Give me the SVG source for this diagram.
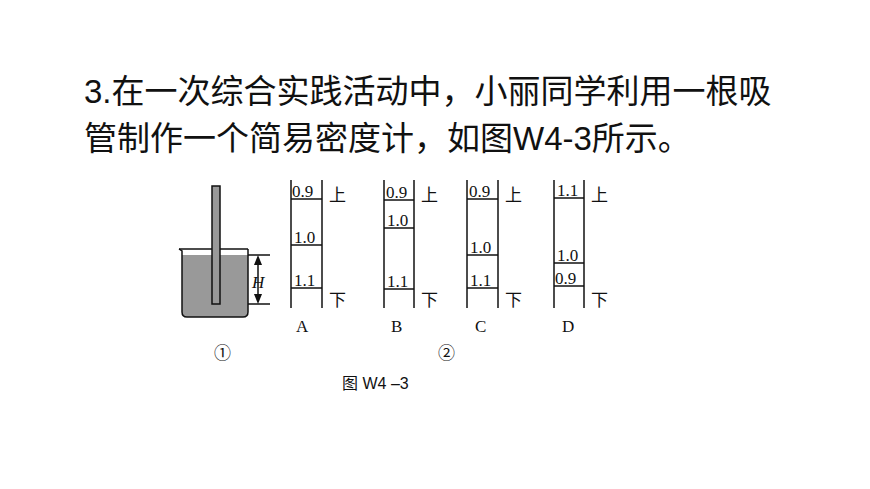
<svg xmlns="http://www.w3.org/2000/svg" width="870" height="489" viewBox="0 0 870 489">
<style>
.t{font-family:"Liberation Sans","Noto Sans CJK SC",sans-serif;font-size:33px;fill:#111}
.s{font-family:"Liberation Serif","Noto Sans CJK SC",serif;font-size:17px;fill:#111}
.l{stroke:#111;stroke-width:1.5;fill:none}
</style>
<rect width="870" height="489" fill="#fff"/>
<text class="t" x="84" y="103">3.在一次综合实践活动中，小丽同学利用一根吸</text>
<text class="t" x="84" y="150">管制作一个简易密度计，如图W4-3所示。</text>
<g id="beaker">
<path d="M182 255 L248 255 L248 312 Q248 317 243 317 L187 317 Q182 317 182 312 Z" fill="#999"/>
<path class="l" d="M179 249 L182 251 L182 312 Q182 317 187 317 L243 317 Q248 317 248 312 L248 249"/>
<line class="l" x1="179" y1="249" x2="248" y2="249"/>
<rect x="212" y="186" width="8" height="118" fill="#999" stroke="#111" stroke-width="1.5"/>
<line class="l" x1="248" y1="255" x2="270" y2="255"/>
<line class="l" x1="248" y1="304" x2="270" y2="304"/>
<line class="l" x1="258" y1="262" x2="258" y2="297"/>
<polygon points="258,255 254,265 262,265" fill="#111"/>
<polygon points="258,304 254,294 262,294" fill="#111"/>
<text class="s" x="252" y="288" font-style="italic">H</text>
<text class="s" x="214" y="359" font-size="24">①</text>
</g>
<g id="A">
<line class="l" x1="291" y1="180" x2="291" y2="308"/><line class="l" x1="322" y1="180" x2="322" y2="308"/>
<line class="l" x1="291" y1="199" x2="322" y2="199"/><line class="l" x1="291" y1="245" x2="322" y2="245"/><line class="l" x1="291" y1="288" x2="322" y2="288"/>
<text class="s" x="292" y="197">0.9</text><text class="s" x="294" y="243">1.0</text><text class="s" x="294" y="286">1.1</text>
<text class="s" x="329" y="201">上</text><text class="s" x="329" y="306">下</text>
<text class="s" x="296" y="332">A</text>
</g>
<g id="B">
<line class="l" x1="384" y1="180" x2="384" y2="308"/><line class="l" x1="414" y1="180" x2="414" y2="308"/>
<line class="l" x1="384" y1="200" x2="414" y2="200"/><line class="l" x1="384" y1="228" x2="414" y2="228"/><line class="l" x1="384" y1="289" x2="414" y2="289"/>
<text class="s" x="386" y="198">0.9</text><text class="s" x="387" y="226">1.0</text><text class="s" x="387" y="287">1.1</text>
<text class="s" x="421" y="201">上</text><text class="s" x="421" y="306">下</text>
<text class="s" x="391" y="332">B</text>
</g>
<g id="C">
<line class="l" x1="467" y1="180" x2="467" y2="308"/><line class="l" x1="498" y1="180" x2="498" y2="308"/>
<line class="l" x1="467" y1="199" x2="498" y2="199"/><line class="l" x1="467" y1="255" x2="498" y2="255"/><line class="l" x1="467" y1="288" x2="498" y2="288"/>
<text class="s" x="469" y="197">0.9</text><text class="s" x="470" y="253">1.0</text><text class="s" x="470" y="286">1.1</text>
<text class="s" x="505" y="201">上</text><text class="s" x="505" y="306">下</text>
<text class="s" x="475" y="332">C</text>
</g>
<g id="D">
<line class="l" x1="554" y1="180" x2="554" y2="308"/><line class="l" x1="584" y1="180" x2="584" y2="308"/>
<line class="l" x1="554" y1="198" x2="584" y2="198"/><line class="l" x1="554" y1="263" x2="584" y2="263"/><line class="l" x1="554" y1="286" x2="584" y2="286"/>
<text class="s" x="557" y="196">1.1</text><text class="s" x="557" y="261">1.0</text><text class="s" x="555" y="284">0.9</text>
<text class="s" x="591" y="201">上</text><text class="s" x="591" y="306">下</text>
<text class="s" x="562" y="332">D</text>
</g>
<text class="s" x="438" y="359" font-size="24">②</text>
<text x="342" y="389" font-family="Liberation Sans,Noto Sans CJK SC,sans-serif" font-size="16" fill="#111">图 W4 –3</text>
</svg>
